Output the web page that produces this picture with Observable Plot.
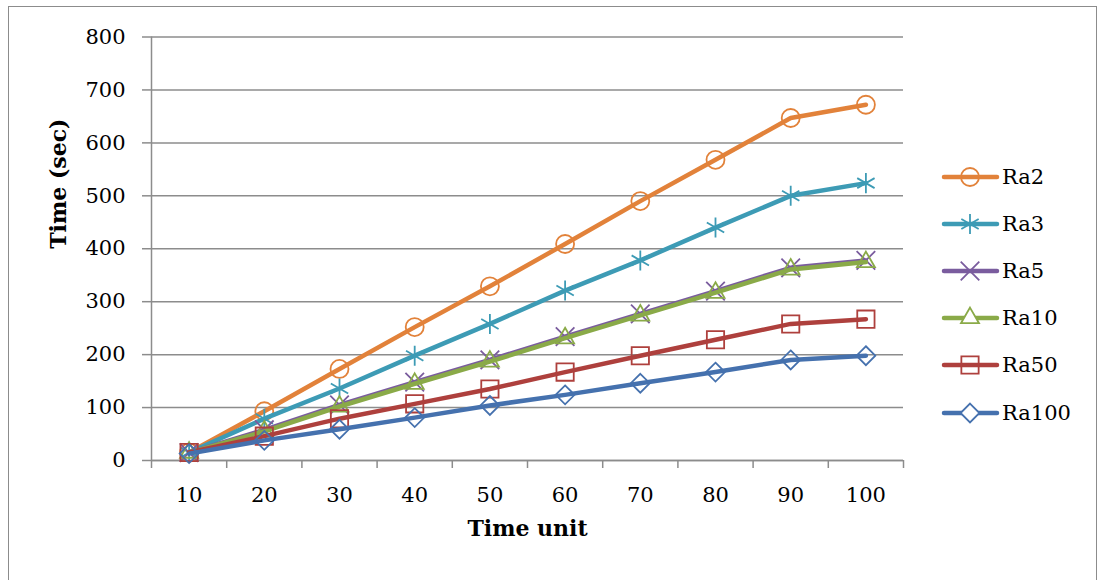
<!DOCTYPE html>
<html>
<head>
<meta charset="utf-8">
<script src="https://cdn.jsdelivr.net/npm/d3@7"></script>
<script src="https://cdn.jsdelivr.net/npm/@observablehq/plot@0.6"></script>
<style>
  html, body { margin: 0; padding: 0; background: #fff; }
  #wrap { position: relative; width: 1100px; height: 580px; overflow: hidden; }
  #border { position: absolute; left: 8px; top: 6px; width: 1087px; height: 620px; border: 1.5px solid #8c8c8c; pointer-events: none; }
  #legend { position: absolute; left: 940px; top: 153px; font-family: "DejaVu Serif", serif; font-size: 21px; color: #000; }
  .row { display: flex; align-items: center; height: 47.2px; }
  .row span { margin-left: 2px; }
</style>
</head>
<body>
<div id="wrap"><div id="chart"></div><div id="border"></div><div id="legend"></div></div>
<script>
const categories = [10, 20, 30, 40, 50, 60, 70, 80, 90, 100];
const seriesNames = ["Ra2", "Ra3", "Ra5", "Ra10", "Ra50", "Ra100"];
const ra2   = [15, 93, 173, 252, 329, 409, 490, 568, 647, 672];
const ra3   = [15, 79, 136, 198, 258, 321, 378, 440, 500, 524];
const ra5   = [15, 58, 105, 148, 190, 234, 277, 320, 364, 378];
const ra10  = [15, 55, 102, 145, 187, 231, 274, 317, 361, 375];
const ra50  = [15, 46, 79, 107, 135, 167, 198, 228, 258, 267];
const ra100 = [13, 38, 59, 81, 104, 124, 146, 167, 190, 198];
const yTicks = [0, 100, 200, 300, 400, 500, 600, 700, 800];
const xTickLabels = categories;

const values = [ra2, ra3, ra5, ra10, ra50, ra100];
const colors = ["#E2823A", "#3D9BB5", "#7A5C9E", "#8AAA48", "#AE403D", "#4571AE"];
const symbols = ["circle", "asterisk", "times", "triangle2", "square2", "diamond2"];
const sizes = [9, 9.5, 8.5, 8.6, 11, 8.5];

const step = categories[1] - categories[0];
const edges = categories.map(c => c - step / 2).concat([categories[categories.length - 1] + step / 2]);

const data = [];
seriesNames.forEach((s, i) => categories.forEach((c, j) => data.push({series: s, idx: i, x: c, y: values[i][j]})));

const gray = "#8c8c8c";
const marks = [
  Plot.gridY(yTicks, {stroke: gray, strokeOpacity: 1, strokeWidth: 1.5}),
  Plot.ruleY([0], {stroke: gray, strokeWidth: 1.5}),
  Plot.ruleX([edges[0]], {stroke: gray, strokeWidth: 1.5}),
  Plot.axisY({ticks: yTicks, tickSize: 9, tickPadding: 17, stroke: gray, strokeWidth: 1.5, label: null, fill: "#000"}),
  Plot.axisX({ticks: edges, tickSize: 8, tickFormat: () => "", stroke: gray, strokeWidth: 1.5, label: null}),
  Plot.axisX({ticks: xTickLabels, tickSize: 0, tickPadding: 27, label: null, fill: "#000"}),
  Plot.text(["Time unit"], {frameAnchor: "bottom", dy: 75, fontWeight: "bold", fontSize: 22}),
  Plot.text(["Time (sec)"], {frameAnchor: "left", dx: -93, rotate: -90, fontWeight: "bold", fontSize: 22})
];
seriesNames.forEach((s, i) => {
  const d = data.filter(r => r.idx === i);
  marks.push(Plot.line(d, {x: "x", y: "y", stroke: colors[i], strokeWidth: 4.5, strokeLinejoin: "round", strokeLinecap: "round"}));
  marks.push(Plot.dot(d, {x: "x", y: "y", symbol: () => symbols[i], r: sizes[i], stroke: colors[i], strokeWidth: 1.8, fill: "none"}));
});

const chart = Plot.plot({
  width: 1100,
  height: 580,
  marginLeft: 151,
  marginRight: 197,
  marginTop: 36.5,
  marginBottom: 120,
  style: {fontFamily: "DejaVu Serif, serif", fontSize: "21px", background: "#fff", color: "#000"},
  x: {type: "linear", domain: [edges[0], edges[edges.length - 1]]},
  y: {domain: [0, 800]},
  symbol: {type: "identity"},
  marks
});
document.getElementById("chart").appendChild(chart);

// legend
const legend = d3.select("#legend");
seriesNames.forEach((s, i) => {
  const row = legend.append("div").attr("class", "row");
  const svg = row.append("svg").attr("width", 60).attr("height", 30);
  svg.append("line").attr("x1", 4).attr("x2", 57).attr("y1", 15).attr("y2", 15)
    .attr("stroke", colors[i]).attr("stroke-width", 4.5).attr("stroke-linecap", "round");
  const symMap = {circle: d3.symbolCircle, asterisk: d3.symbolAsterisk, times: d3.symbolTimes,
    triangle2: d3.symbolTriangle2, square2: d3.symbolSquare2, diamond2: d3.symbolDiamond2};
  svg.append("path").attr("transform", "translate(30,15)")
    .attr("d", d3.symbol(symMap[symbols[i]], Math.PI * sizes[i] * sizes[i])())
    .attr("fill", symbols[i] === "triangle2" || symbols[i] === "diamond2" ? "#fff" : "none")
    .attr("stroke", colors[i]).attr("stroke-width", 1.8);
  row.append("span").text(s);
});
</script>
</body>
</html>
